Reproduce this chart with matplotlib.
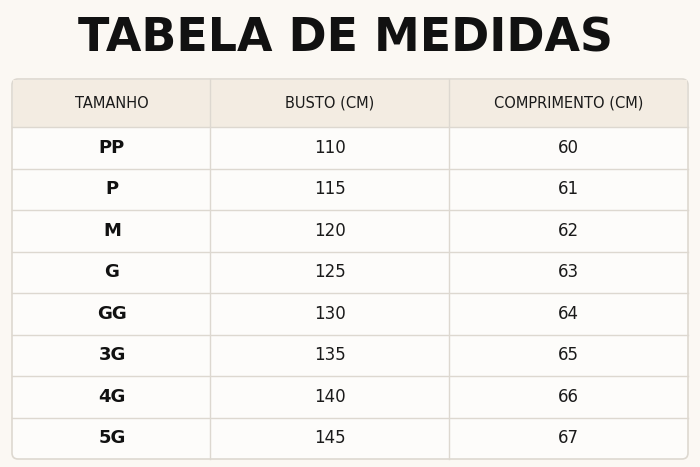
import matplotlib
matplotlib.use("Agg")
from matplotlib import pyplot as plt
from matplotlib.patches import FancyBboxPatch, Rectangle

title = "TABELA DE MEDIDAS"
headers = ["TAMANHO", "BUSTO (CM)", "COMPRIMENTO (CM)"]
sizes = ["PP", "P", "M", "G", "GG", "3G", "4G", "5G"]
busto = [110, 115, 120, 125, 130, 135, 140, 145]
comprimento = [60, 61, 62, 63, 64, 65, 66, 67]

fam = ["DejaVu Sans"]
bg = "#fbf8f3"
head_bg = "#f3ece2"
line_c = "#ddd8d0"

fig = plt.figure(figsize=(7, 4.67), dpi=100, facecolor=bg)
ax = fig.add_axes([0, 0, 1, 1])
ax.set_xlim(0, 700)
ax.set_ylim(467, 0)
ax.axis("off")

left, right, top, bottom = 12, 688, 79, 459
head_h = 48
row_h = (bottom - top - head_h) / len(sizes)
col_x = [12, 210, 449, 688]

ax.add_patch(FancyBboxPatch((left, top), right - left, bottom - top,
                            boxstyle="round,pad=0,rounding_size=6",
                            fc="#fdfcfa", ec=line_c, lw=1.2, zorder=1))
ax.add_patch(Rectangle((left + 1, top + 1), right - left - 2, head_h - 1,
                       fc=head_bg, ec="none", zorder=2))
ax.plot([left, right], [top + head_h] * 2, color=line_c, lw=1, zorder=3)
for i in range(1, len(sizes)):
    y = top + head_h + i * row_h
    ax.plot([left, right], [y, y], color=line_c, lw=1, zorder=3)
for x in col_x[1:-1]:
    ax.plot([x, x], [top, bottom], color=line_c, lw=1, zorder=3)

ax.text(345, 39, title, ha="center", va="center", fontsize=33,
        fontweight="bold", family=fam, color="#111111")

centers = [(col_x[j] + col_x[j + 1]) / 2 for j in range(3)]
centers[0] = 112
for j, h in enumerate(headers):
    ax.text(centers[j], top + head_h / 2, h, ha="center", va="center",
            fontsize=10.5, family=fam, color="#1a1a1a", zorder=4)

for i, (s, b, c) in enumerate(zip(sizes, busto, comprimento)):
    y = top + head_h + (i + 0.5) * row_h
    ax.text(centers[0], y, s, ha="center", va="center", fontsize=13,
            fontweight="bold", family=fam, color="#111111", zorder=4)
    ax.text(centers[1], y, str(b), ha="center", va="center", fontsize=12,
            family=fam, color="#1a1a1a", zorder=4)
    ax.text(centers[2], y, str(c), ha="center", va="center", fontsize=12,
            family=fam, color="#1a1a1a", zorder=4)

fig.savefig("out.png", dpi=100, facecolor=bg)
